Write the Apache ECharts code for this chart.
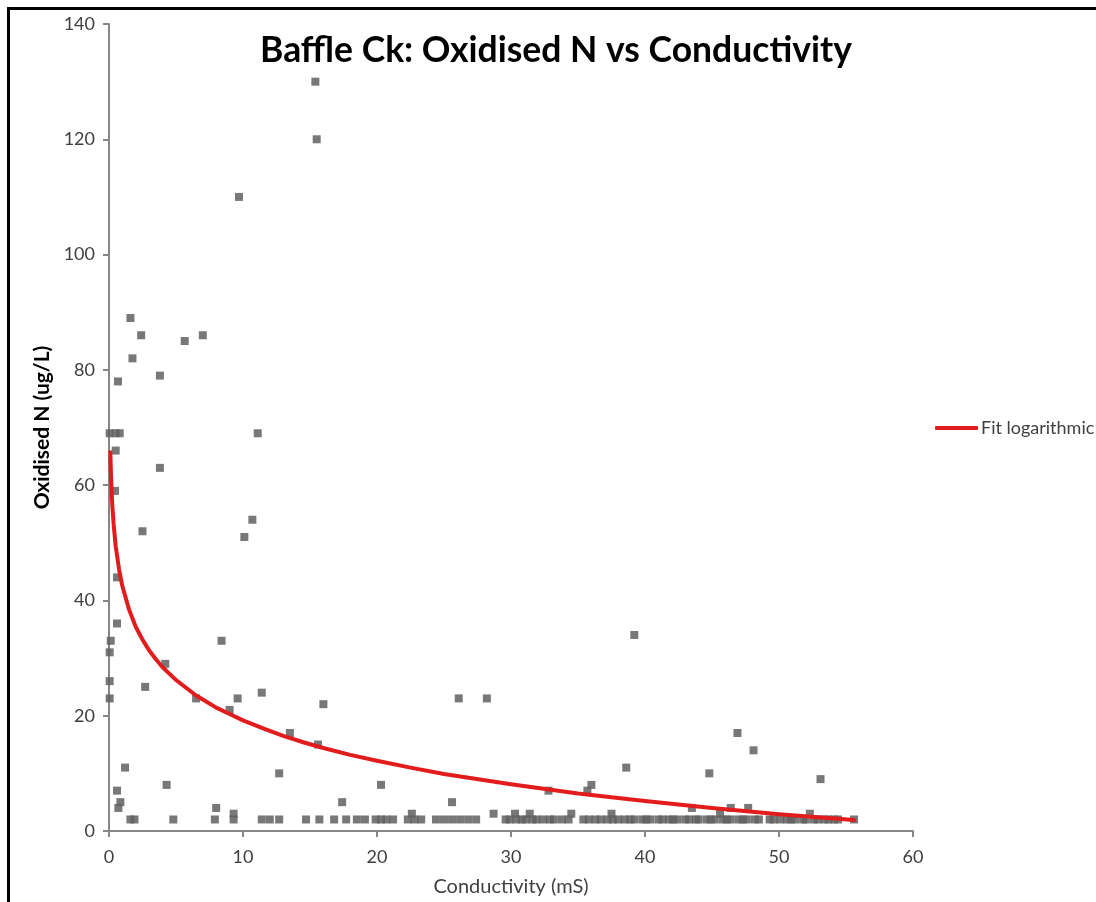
<!DOCTYPE html>
<html style="height: 100%">

<head>
    <meta charset="utf-8">
    <script src="https://cdn.jsdelivr.net/npm/echarts@6/dist/echarts.min.js"></script>
</head>

<body style="height: 100%; margin: 0; background: #fff">
    <div id="main" style="width: 1096px; height: 902px"></div>
    <script type="text/javascript">
        // conductivity (mS) for each sample
        var condX = [
            15.4, 15.5, 9.7, 1.6, 2.4, 7.0, 5.65, 1.75, 0.67, 3.8,
            0.05, 0.5, 0.8, 11.1, 0.5, 3.8, 0.45, 10.7, 2.5, 10.1,
            0.6, 0.6, 39.2, 0.13, 8.4, 0.05, 4.2, 0.05, 2.7, 11.4,
            0.05, 6.5, 9.6, 26.1, 28.2, 16.0, 9.0, 13.5, 46.9, 15.6,
            48.1, 1.2, 38.6, 12.7, 44.8, 53.1, 4.3, 20.3, 36.0, 0.6,
            32.8, 35.7, 0.85, 17.4, 25.6, 0.7, 8.0, 43.5, 46.4, 47.7,
            9.3, 22.6, 28.7, 30.3, 31.4, 34.5, 37.5, 45.6, 52.3,
            // y = 2 row
            1.6, 1.9, 4.8, 7.9, 9.3, 11.4, 12.0, 12.7, 14.7, 15.7,
            16.8, 17.7, 18.5, 19.1, 19.9, 20.3, 20.7, 21.2, 22.3, 22.8,
            23.3, 24.4, 25.0, 25.6, 26.2, 26.8, 27.4, 29.6, 29.9, 30.4,
            30.8, 31.1, 31.6, 31.9, 32.4, 32.9, 33.2, 33.8, 34.3, 35.4,
            35.8, 36.3, 36.7, 37.2, 37.6, 38.0, 38.5, 38.9, 39.2, 39.8,
            40.1, 40.4, 41.0, 41.3, 41.8, 42.1, 42.4, 43.0, 43.3, 43.8,
            44.0, 44.6, 44.9, 45.2, 45.8, 46.1, 46.4, 47.0, 47.3, 47.6,
            48.2, 48.5, 49.3, 49.6, 50.1, 50.6, 50.9, 51.2, 51.8, 52.0,
            52.6, 52.9, 53.4, 53.7, 54.1, 54.4, 55.6
        ];
        // oxidised N (ug/L) for each sample
        var oxN = [
            130, 120, 110, 89, 86, 86, 85, 82, 78, 79,
            69, 69, 69, 69, 66, 63, 59, 54, 52, 51,
            44, 36, 34, 33, 33, 31, 29, 26, 25, 24,
            23, 23, 23, 23, 23, 22, 21, 17, 17, 15,
            14, 11, 11, 10, 10, 9, 8, 8, 8, 7,
            7, 7, 5, 5, 5, 4, 4, 4, 4, 4,
            3, 3, 3, 3, 3, 3, 3, 3, 3,
            2, 2, 2, 2, 2, 2, 2, 2, 2, 2,
            2, 2, 2, 2, 2, 2, 2, 2, 2, 2,
            2, 2, 2, 2, 2, 2, 2, 2, 2, 2,
            2, 2, 2, 2, 2, 2, 2, 2, 2, 2,
            2, 2, 2, 2, 2, 2, 2, 2, 2, 2,
            2, 2, 2, 2, 2, 2, 2, 2, 2, 2,
            2, 2, 2, 2, 2, 2, 2, 2, 2, 2,
            2, 2, 2, 2, 2, 2, 2, 2, 2, 2,
            2, 2, 2, 2, 2, 2, 2
        ];
        // logarithmic fit
        var fitX = [0.1, 0.15, 0.2, 0.25, 0.35, 0.5, 0.75, 1, 1.5, 2, 2.5, 3, 3.5, 4, 4.5, 5, 6.5, 7, 8, 9, 10,
            11.5, 13, 14.5, 16, 18, 20, 22.5, 25, 30, 35, 40, 45, 50, 55.6];
        var fitY = [65.7, 61.6, 58.7, 56.4, 53.1, 49.4, 45.4, 42.45, 38.4, 35.4, 33.2, 31.3, 29.8, 28.4, 27.3, 26.2, 23.5, 22.8, 21.4, 20.3, 19.2,
            17.8, 16.5, 15.4, 14.4, 13.2, 12.2, 11.0, 9.9, 8.1, 6.5, 5.2, 4.0, 2.9, 1.9];

        var scatterData = condX.map(function (x, i) { return [x, oxN[i]]; });
        var fitData = fitX.map(function (x, i) { return [x, fitY[i]]; });

        var font = 'Lato, "Liberation Sans", sans-serif';
        var axisGray = '#868686';
        var fitRed = '#e21c1c';

        var myChart = echarts.init(document.getElementById('main'));
        var option = {
            backgroundColor: '#fff',
            animation: false,
            title: {
                text: 'Baffle Ck: Oxidised N vs Conductivity',
                left: 551,
                textAlign: 'center',
                top: 28,
                textStyle: { fontFamily: font, fontSize: 35.5, fontWeight: 'bold', color: '#000' }
            },
            legend: {
                left: 930,
                top: 414,
                itemWidth: 43,
                itemHeight: 4,
                itemGap: 3,
                data: [{ name: 'Fit logarithmic', icon: 'roundRect' }],
                textStyle: { fontFamily: font, fontSize: 18, color: '#404040', padding: [0, 0, 0, -2] }
            },
            graphic: [
                { type: 'rect', shape: { x: 7, y: 7, width: 1089, height: 3 }, style: { fill: '#000' } },
                { type: 'rect', shape: { x: 7, y: 7, width: 3, height: 895 }, style: { fill: '#000' } }
            ],
            grid: { left: 109, top: 24, width: 804, height: 807 },
            xAxis: {
                type: 'value',
                min: 0, max: 60, interval: 10,
                name: 'Conductivity (mS)',
                nameLocation: 'middle',
                nameGap: 46,
                nameTextStyle: { fontFamily: font, fontSize: 20, color: '#404040' },
                axisLine: { lineStyle: { color: axisGray, width: 2 } },
                axisTick: { show: true, length: 6, lineStyle: { color: axisGray, width: 2 } },
                axisLabel: { fontFamily: font, fontSize: 18, color: '#404040', margin: 17 },
                splitLine: { show: false }
            },
            yAxis: {
                type: 'value',
                min: 0, max: 140, interval: 20,
                name: 'Oxidised N (ug/L)',
                nameLocation: 'middle',
                nameGap: 56,
                nameTextStyle: { fontFamily: font, fontSize: 21, fontWeight: 'bold', color: '#000' },
                axisLine: { show: true, lineStyle: { color: axisGray, width: 2 } },
                axisTick: { show: true, length: 6, lineStyle: { color: axisGray, width: 2 } },
                axisLabel: { fontFamily: font, fontSize: 18, color: '#404040', margin: 14 },
                splitLine: { show: false }
            },
            series: [{
                name: 'Oxidised N',
                type: 'scatter',
                symbol: 'rect',
                symbolSize: 8,
                itemStyle: { color: '#606060', opacity: 0.85 },
                data: scatterData
            }, {
                name: 'Fit logarithmic',
                type: 'line',
                symbol: 'none',
                lineStyle: { color: fitRed, width: 4, cap: 'round', join: 'round' },
                itemStyle: { color: fitRed },
                data: fitData,
                z: 3
            }]
        };
        myChart.setOption(option);
    </script>
</body>

</html>
